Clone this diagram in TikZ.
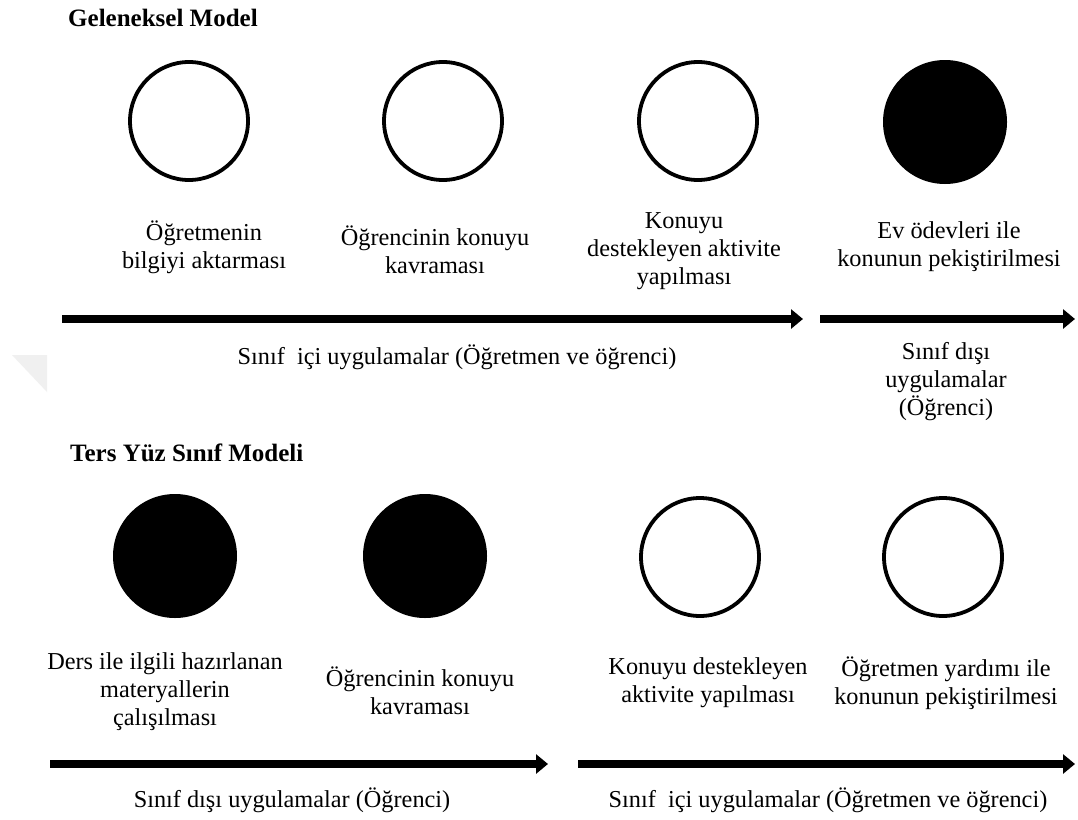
\documentclass[tikz,border=0pt]{standalone}
\usepackage{fontspec}
\setmainfont{Liberation Serif}
\usetikzlibrary{arrows.meta}
\begin{document}
\begin{tikzpicture}[x=1pt,y=-1pt,
  txt/.style={align=center,inner sep=0pt,font=\fontsize{24.3}{28}\selectfont},
  ttl/.style={anchor=west,inner sep=0pt,font=\fontsize{25}{28}\selectfont\bfseries},
  open/.style={circle,draw=black,line width=3.8pt,minimum size=118pt,inner sep=0pt},
  full/.style={circle,fill=black,minimum size=124pt,inner sep=0pt},
  bigarrow/.style={line width=8.5pt,-{Triangle[length=12pt,width=19pt]}}]
\useasboundingbox (0,0) rectangle (1078,819);
\fill[white] (0,0) rectangle (1078,819);
% faint watermark corner
\fill[black!6] (12,355) -- (47,355) -- (47,392) -- cycle;

% ---------- Geleneksel Model ----------
\node[ttl] (t1) at (68,18) {Geleneksel Model};
\node[open] (a1) at (189,121) {};
\node[open] (a2) at (443,121) {};
\node[open] (a3) at (698,121) {};
\node[full] (a4) at (945,122) {};

\node[txt] (la1) at (204,247) {Öğretmenin\\bilgiyi aktarması};
\node[txt] (la2) at (435,250) {Öğrencinin konuyu\\kavraması};
\node[txt] (la3) at (684,251) {Konuyu\\destekleyen aktivite\\yapılması};
\node[txt] (la4) at (949,247) {Ev ödevleri ile\\konunun pekiştirilmesi};

\coordinate (p1s) at (62,319);
\coordinate (p1e) at (803,319);
\coordinate (p2s) at (820,319);
\coordinate (p2e) at (1075,319);
\draw[bigarrow] (p1s) -- (p1e);
\draw[bigarrow] (p2s) -- (p2e);

\node[txt] (sa1) at (457,357) {Sınıf\ \ içi uygulamalar (Öğretmen ve öğrenci)};
\node[txt] (sa2) at (946,382) {Sınıf dışı\\uygulamalar\\(Öğrenci)};

% ---------- Ters Yüz Sınıf Modeli ----------
\node[ttl] (t2) at (70,453) {Ters Yüz Sınıf Modeli};
\node[full] (b1) at (175,556) {};
\node[full] (b2) at (425,556) {};
\node[open] (b3) at (700,557) {};
\node[open] (b4) at (943,557) {};

\node[txt] (lb1) at (165,692) {Ders ile ilgili hazırlanan\\materyallerin\\çalışılması};
\node[txt] (lb2) at (420,691) {Öğrencinin konuyu\\kavraması};
\node[txt] (lb3) at (708,683) {Konuyu destekleyen\\aktivite yapılması};
\node[txt] (lb4) at (946,683) {Öğretmen yardımı ile\\konunun pekiştirilmesi};

\coordinate (q1s) at (50,764);
\coordinate (q1e) at (548,764);
\coordinate (q2s) at (578,764);
\coordinate (q2e) at (1075,764);
\draw[bigarrow] (q1s) -- (q1e);
\draw[bigarrow] (q2s) -- (q2e);

\node[txt] (sb1) at (292,800) {Sınıf dışı uygulamalar (Öğrenci)};
\node[txt] (sb2) at (828,800) {Sınıf\ \ içi uygulamalar (Öğretmen ve öğrenci)};
\end{tikzpicture}
\end{document}
